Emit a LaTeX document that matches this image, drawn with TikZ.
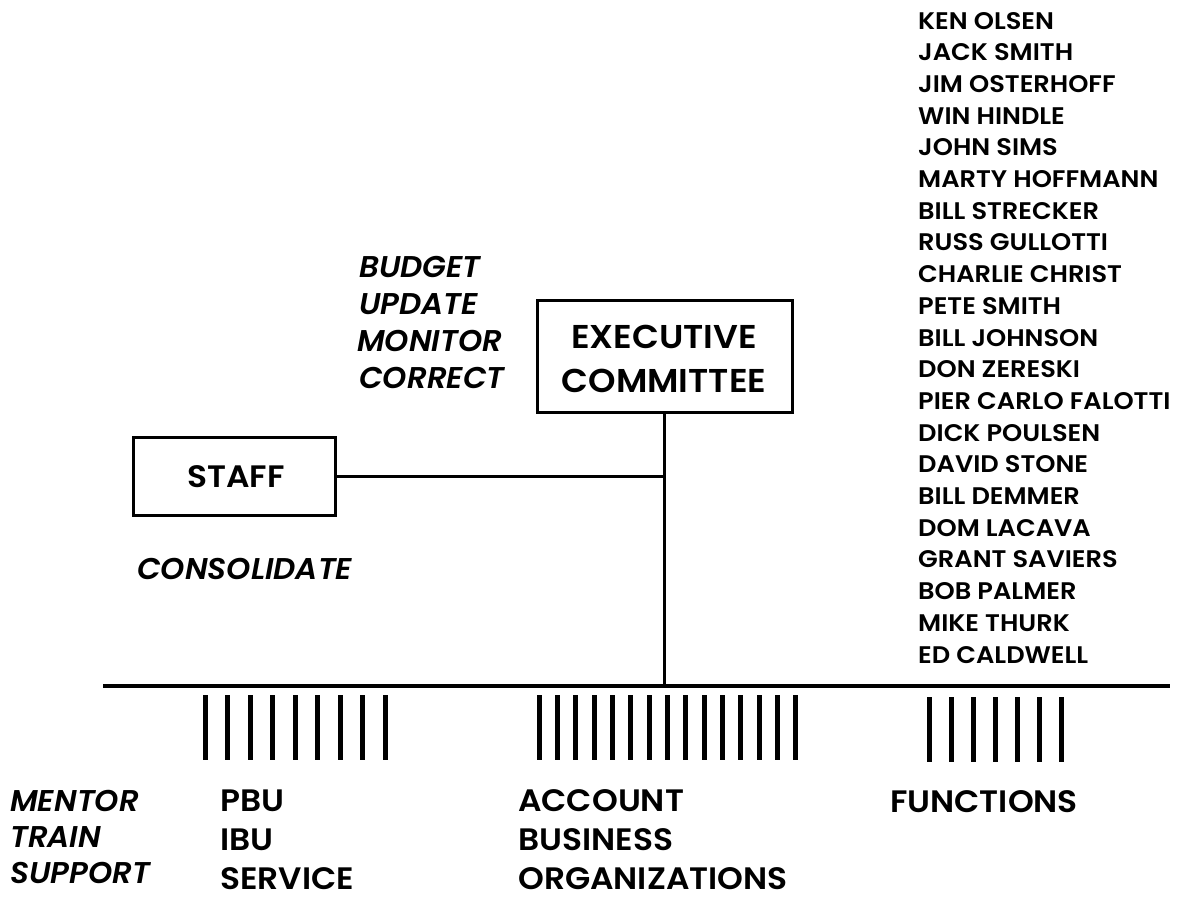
\documentclass[tikz,border=0pt]{standalone}
\usepackage{fontspec}
\setmainfont{Poppins}[UprightFont=* SemiBold, ItalicFont=* SemiBold Italic]
\newfontfamily\namefont{Poppins SemiBold}[FakeStretch=1.07]
\newfontfamily\headfont{Poppins SemiBold}[FakeStretch=1.06]
\newfontfamily\actfont{Poppins SemiBold Italic}[FakeStretch=1.03]
\begin{document}
\begin{tikzpicture}[x=1pt,y=-1pt,
  txt/.style={anchor=base west, inner sep=0pt, font=\namefont\fontsize{24}{24}\selectfont},
  big/.style={anchor=base west, inner sep=0pt, font=\headfont\fontsize{31}{31}\selectfont},
  ital/.style={anchor=base west, inner sep=0pt, font=\actfont\fontsize{30}{30}\selectfont},
  box/.style={draw, line width=3pt, inner sep=0pt},
  wire/.style={line width=3pt},
  bar/.style={line width=5pt}]
\useasboundingbox (0,0) rectangle (1180,902);

% boxes
\node[box, minimum width=202pt, minimum height=78pt] (staff) at (234,476) {};
\node[font=\headfont\fontsize{31}{31}\selectfont, inner sep=0pt] (stafft) at (236,477) {STAFF};
\node[box, minimum width=255pt, minimum height=112pt] (exec) at (664.5,356) {};
\node[font=\headfont\fontsize{33}{33}\selectfont, inner sep=0pt, align=center] (exect) at (664,359)
  {EXECUTIVE\\[11pt]COMMITTEE};

% main rail and connectors
\coordinate (railL) at (103,686);
\coordinate (railR) at (1170,686);
\draw[line width=4pt] (railL) -- (railR);
\coordinate (junc) at (exec.south |- staff.east);
\coordinate (railJ) at (exec.south |- railL);
\draw[wire] (exec.south) -- (railJ);
\draw[wire] (staff.east) -- (junc);

% bars
\foreach \i in {0,...,8} \draw[bar] (205+22.5*\i,695) -- (205+22.5*\i,760);
\foreach \i in {0,...,14} \draw[bar] (539+18.35*\i,695) -- (539+18.35*\i,760);
\foreach \i in {0,...,6} \draw[bar] (929+22*\i,697) -- (929+22*\i,762);

% italic activity labels
\node[ital] (budget) at (359,277) {BUDGET};
\node[ital] (update) at (359,314) {UPDATE};
\node[ital] (monitor) at (357,351) {MONITOR};
\node[ital] (correct) at (359,388) {CORRECT};
\node[ital] (consol) at (137,579) {CONSOLIDATE};
\node[ital] (mentor) at (10,811) {MENTOR};
\node[ital] (train) at (10,847) {TRAIN};
\node[ital] (support) at (10,883) {SUPPORT};

% group labels
\node[big] (pbu) at (220,811) {PBU};
\node[big] (ibu) at (220,850) {IBU};
\node[big] (service) at (220,889) {SERVICE};
\node[big] (account) at (518,811) {ACCOUNT};
\node[big] (business) at (518,850) {BUSINESS};
\node[big] (orgs) at (518,889) {ORGANIZATIONS};
\node[big] (functions) at (890,812) {FUNCTIONS};

% committee members
\foreach \n [count=\k from 0] in {KEN OLSEN, JACK SMITH, JIM OSTERHOFF, WIN HINDLE,
  JOHN SIMS, MARTY HOFFMANN, BILL STRECKER, RUSS GULLOTTI, CHARLIE CHRIST,
  PETE SMITH, BILL JOHNSON, DON ZERESKI, PIER CARLO FALOTTI, DICK POULSEN,
  DAVID STONE, BILL DEMMER, DOM LACAVA, GRANT SAVIERS, BOB PALMER,
  MIKE THURK, ED CALDWELL}
  \node[txt] (m\k) at (918,29+31.7*\k) {\n};
\end{tikzpicture}
\end{document}
